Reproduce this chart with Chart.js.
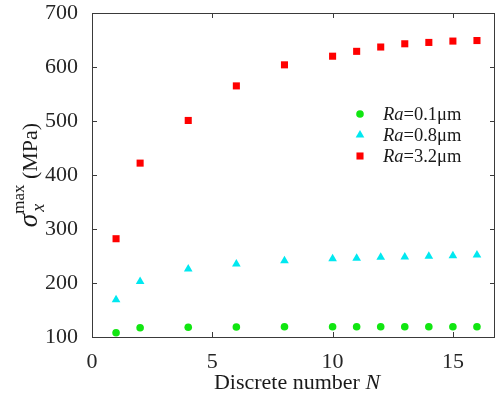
<!DOCTYPE html>
<html>
<head>
<meta charset="utf-8">
<script src="https://cdn.jsdelivr.net/npm/chart.js@4.4.0/dist/chart.umd.min.js"></script>
<style>
html, body { margin: 0; padding: 0; background: #fff; }
#caja { width: 500px; height: 397px; }
</style>
</head>
<body>
<div id="caja"><canvas id="grafico"></canvas></div>
<script>
// datos
var numero_N = [1, 2, 4, 6, 8, 10, 11, 12, 13, 14, 15, 16];
var tension_01 = [108, 117, 118, 118.5, 119, 119, 119, 119, 119, 119, 119, 119];
var tension_08 = [169, 203, 226, 235, 241, 245, 246, 247.5, 248, 249.5, 250.5, 252];
var tension_32 = [282, 422, 501, 565, 604, 620, 629, 637, 643, 645.5, 648, 649];
var etiquetas_Ra = ['=0.1\u03bcm', '=0.8\u03bcm', '=3.2\u03bcm'];
var ticks_x = [0, 5, 10, 15];
var ticks_y = [100, 200, 300, 400, 500, 600, 700];

var colores = ['#11e611', '#00e8f0', '#ff0000'];
var formas = ['circle', 'triangle', 'rect'];
var radios = [3.8, 5, 5];
var fuente = "'Liberation Serif', 'Times New Roman', serif";

function puntos(valores) {
	return numero_N.map(function (n, i) { return { x: n, y: valores[i] }; });
}

//dibuja un marcador igual al de la serie
function marcador(ctx, forma, x, y, r, color) {
	ctx.fillStyle = color;
	ctx.beginPath();
	if (forma == 'circle') {
		ctx.arc(x, y, r, 0, Math.PI * 2);
	} else if (forma == 'triangle') {
		ctx.moveTo(x, y - r);
		ctx.lineTo(x + r * 0.866, y + r * 0.5);
		ctx.lineTo(x - r * 0.866, y + r * 0.5);
		ctx.closePath();
	} else {
		var s = r * Math.SQRT1_2;
		ctx.rect(x - s, y - s, 2 * s, 2 * s);
	}
	ctx.fill();
}

// marco, ticks hacia adentro, leyenda y titulos
var plugin_marco = {
	id: 'marco',
	afterDraw: function (chart) {
		var ctx = chart.ctx;
		var a = chart.chartArea;
		var sx = chart.scales.x, sy = chart.scales.y;
		ctx.save();
		ctx.strokeStyle = '#3a3a3a';
		ctx.lineWidth = 1;
		ctx.strokeRect(a.left + 0.5, a.top + 0.5, a.right - a.left - 1, a.bottom - a.top);
		ctx.beginPath();
		ticks_x.forEach(function (v) {
			var px = Math.round(sx.getPixelForValue(v)) + 0.5;
			ctx.moveTo(px, a.bottom); ctx.lineTo(px, a.bottom - 5);
			ctx.moveTo(px, a.top); ctx.lineTo(px, a.top + 5);
		});
		ticks_y.forEach(function (v) {
			var py = Math.round(sy.getPixelForValue(v)) + 0.5;
			ctx.moveTo(a.left, py); ctx.lineTo(a.left + 5, py);
			ctx.moveTo(a.right, py); ctx.lineTo(a.right - 5, py);
		});
		ctx.stroke();

		// leyenda
		ctx.textBaseline = 'middle';
		ctx.textAlign = 'left';
		for (var i = 0; i < 3; i++) {
			var yl = 114 + i * 21;
			marcador(ctx, formas[i], 360, yl, radios[i], colores[i]);
			ctx.fillStyle = '#1a1a1a';
			ctx.font = 'italic 18.5px ' + fuente;
			ctx.fillText('Ra', 383, yl + 1);
			var w = ctx.measureText('Ra').width;
			ctx.font = '18.5px ' + fuente;
			ctx.fillText(etiquetas_Ra[i], 383 + w, yl + 1);
		}

		// titulo eje x
		ctx.textBaseline = 'alphabetic';
		ctx.font = '22px ' + fuente;
		var t1 = 'Discrete number ';
		var w1 = ctx.measureText(t1).width;
		ctx.font = 'italic 22px ' + fuente;
		var w2 = ctx.measureText('N').width;
		var x0 = 297 - (w1 + w2) / 2;
		ctx.font = '22px ' + fuente;
		ctx.fillText(t1, x0, 389);
		ctx.font = 'italic 22px ' + fuente;
		ctx.fillText('N', x0 + w1, 389);

		// titulo eje y (rotado)
		ctx.translate(37, 175);
		ctx.rotate(-Math.PI / 2);
		ctx.font = 'italic 27px ' + fuente;
		var ws = ctx.measureText('\u03c3').width;
		ctx.font = '17px ' + fuente;
		var wm = ctx.measureText('max').width;
		ctx.font = '22px ' + fuente;
		var wp = ctx.measureText(' (MPa)').width;
		var total = ws + wm + wp;
		var xi = -total / 2;
		ctx.font = 'italic 27px ' + fuente;
		ctx.fillText('\u03c3', xi, 0);
		ctx.font = 'italic 18px ' + fuente;
		ctx.fillText('x', xi + ws + 2, 7);
		ctx.font = '17px ' + fuente;
		ctx.fillText('max', xi + ws, -13);
		ctx.font = '22px ' + fuente;
		ctx.fillText(' (MPa)', xi + ws + wm, 0);
		ctx.restore();
	}
};

var configuracion = {
	type: 'scatter',
	data: {
		datasets: [0, 1, 2].map(function (i) {
			return {
				label: 'Ra' + etiquetas_Ra[i],
				data: puntos([tension_01, tension_08, tension_32][i]),
				pointStyle: formas[i],
				pointRadius: radios[i],
				pointBackgroundColor: colores[i],
				pointBorderColor: colores[i],
				pointBorderWidth: 0
			};
		})
	},
	options: {
		responsive: true,
		maintainAspectRatio: false,
		animation: false,
		layout: { padding: { top: 13, right: 0, left: 0, bottom: 0 } },
		plugins: { legend: { display: false }, tooltip: { enabled: false } },
		scales: {
			x: {
				type: 'linear',
				min: 0,
				max: 16.75,
				grid: { display: false },
				border: { display: false },
				afterBuildTicks: function (s) { s.ticks = ticks_x.map(function (v) { return { value: v }; }); },
				afterFit: function (s) { s.height = 60; s.paddingLeft = 0; s.paddingRight = 0; },
				ticks: { color: '#262626', padding: 4, maxRotation: 0, font: { family: fuente, size: 22 } }
			},
			y: {
				min: 100,
				max: 700,
				grid: { display: false },
				border: { display: false },
				afterBuildTicks: function (s) { s.ticks = ticks_y.map(function (v) { return { value: v }; }); },
				afterFit: function (s) { s.width = 92; s.paddingTop = 0; s.paddingBottom = 0; },
				ticks: { color: '#262626', padding: 6, font: { family: fuente, size: 22 } }
			}
		}
	},
	plugins: [plugin_marco]
};

var ctx = document.getElementById('grafico').getContext('2d');
window.mi_grafico = new Chart(ctx, configuracion);
</script>
</body>
</html>
